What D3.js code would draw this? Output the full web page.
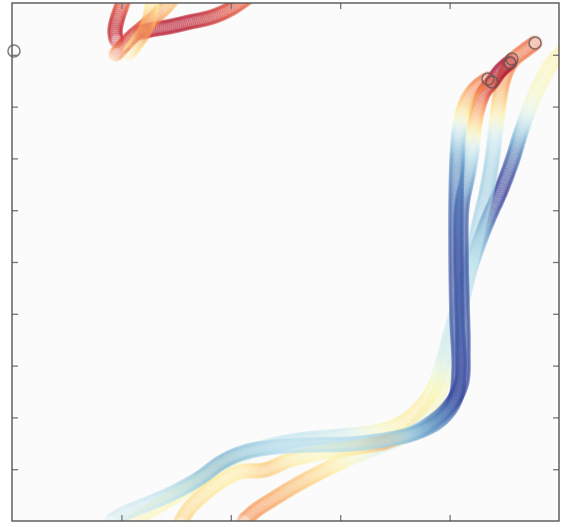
<!DOCTYPE html>
<html>
<head>
<meta charset="utf-8">
<script src="https://cdn.jsdelivr.net/npm/d3@7"></script>
<style>
    body { margin: 0; background: #fff; }
    .axis path { display: none; }
    .axis line { stroke: #777; stroke-width: 1.3; }
</style>
</head>
<body>
<svg id="chart"></svg>
<script>
// trail waypoints, data units [x, y]
var trail_1 = [[4.351, 8.533], [4.260, 8.398], [4.177, 8.185], [4.122, 7.896], [4.086, 7.510], [4.068, 6.969],
    [4.059, 6.197], [4.059, 5.039], [4.068, 3.880], [4.086, 2.915], [4.049, 2.336], [3.912, 1.950], [3.684, 1.699],
    [3.410, 1.564], [3.090, 1.486], [2.724, 1.467], [2.404, 1.429], [2.130, 1.332], [1.920, 1.139], [1.718, 0.830],
    [1.490, 0.560], [1.261, 0.347], [1.033, 0.154], [0.896, -0.019]];
var trail_1_value = [.2, .22, .3, .42, .64, .84, .92, .95, .95, .96, .97, .88, .8, .72, .68, .66, .68, .74, .78, .75,
    .68, .64, .62, .62];

var trail_2 = [[4.552, 8.861], [4.461, 8.687], [4.388, 8.475], [4.314, 8.282], [4.260, 7.973], [4.223, 7.587],
    [4.205, 7.162], [4.168, 6.680], [4.113, 6.100], [4.104, 5.232], [4.113, 4.266], [4.122, 3.301], [4.104, 2.625],
    [3.985, 2.181], [3.803, 1.853], [3.592, 1.641], [3.410, 1.525], [3.181, 1.429], [2.815, 1.313], [2.541, 1.178],
    [2.313, 0.985], [2.084, 0.946], [1.901, 0.753], [1.737, 0.483], [1.609, 0.212], [1.536, -0.058]];
var trail_2_value = [0, 0, .03, .12, .25, .42, .64, .78, .92, .95, .96, .97, .98, .95, .84, .55, .3, .42, .5, .45,
    .35, .45, .45, .42, .4, .38];

var trail_3 = [[4.781, 9.228], [4.680, 9.073], [4.580, 8.900], [4.516, 8.668], [4.470, 8.320], [4.442, 7.934],
    [4.415, 7.452], [4.388, 6.969], [4.342, 6.390], [4.278, 5.811], [4.196, 5.039], [4.095, 4.266], [4.004, 3.591],
    [3.940, 3.069], [3.857, 2.568], [3.729, 2.181], [3.547, 1.873], [3.318, 1.718], [2.998, 1.641], [2.633, 1.564],
    [2.313, 1.429], [2.038, 1.216], [1.810, 0.907], [1.581, 0.598], [1.353, 0.309], [1.170, 0.077], [1.097, -0.058]];
var trail_3_value = [.2, .2, .22, .25, .3, .42, .62, .7, .72, .7, .65, .62, .63, .6, .5, .45, .46, .52, .62, .65,
    .63, .56, .52, .5, .5, .5, .5];

var trail_4 = [[5.174, 9.324], [5.055, 9.093], [4.945, 8.861], [4.854, 8.552], [4.771, 8.185], [4.707, 7.838],
    [4.644, 7.452], [4.589, 7.066], [4.525, 6.680], [4.452, 6.293], [4.369, 5.907], [4.278, 5.425], [4.186, 4.846],
    [4.095, 4.073], [4.022, 3.494], [3.967, 3.012], [3.912, 2.529], [3.803, 2.143], [3.638, 1.718], [3.364, 1.448],
    [3.090, 1.216], [2.861, 0.985], [2.633, 0.734], [2.404, 0.444], [2.221, 0.193], [2.112, -0.019]];
var trail_4_value = [.42, .45, .48, .5, .52, .58, .75, .9, .97, 1, .95, .8, .68, .63, .6, .58, .5, .52, .62, .6,
    .52, .42, .35, .3, .27, .25];

var trail_5 = [[2.157, 10.116], [2.011, 9.903], [1.828, 9.730], [1.627, 9.633], [1.426, 9.537], [1.261, 9.479],
    [1.170, 9.421]];
var trail_5_value = [.18, .14, .08, .04, .03, .04, .06];

var trail_6 = [[1.033, 10.135], [0.996, 9.903], [0.960, 9.672], [0.941, 9.440], [0.960, 9.247]];
var trail_6_value = [.22, .14, .07, .05, .08];

var trail_7 = [[0.951, 9.015], [1.015, 9.170], [1.106, 9.363], [1.225, 9.575], [1.335, 9.788], [1.444, 10.019],
    [1.481, 10.154]];
var trail_7_value = [.3, .15, .08, .15, .28, .35, .35];

var trail_8 = [[1.069, 9.035], [1.143, 9.247], [1.216, 9.479], [1.261, 9.710], [1.280, 9.942], [1.289, 10.154]];
var trail_8_value = [.45, .38, .25, .35, .45, .45];

// current positions
var heads = [[0.018, 9.073], [4.781, 9.228], [4.570, 8.919], [4.552, 8.842], [4.351, 8.533], [4.388, 8.475]];

var x_ticks = [1, 2, 3, 4];
var y_ticks = [1, 2, 3, 4, 5, 6, 7, 8, 9];

var trails = [
    {pts: trail_4, val: trail_4_value},
    {pts: trail_3, val: trail_3_value},
    {pts: trail_2, val: trail_2_value},
    {pts: trail_1, val: trail_1_value},
    {pts: trail_5, val: trail_5_value},
    {pts: trail_6, val: trail_6_value},
    {pts: trail_7, val: trail_7_value},
    {pts: trail_8, val: trail_8_value}
];

var margin = {top: 3, right: 15, bottom: 6, left: 12},
    width = 574 - margin.left - margin.right,
    height = 527 - margin.top - margin.bottom;

var svg = d3.select("#chart")
    .attr("width", 574)
    .attr("height", 527);

var g = svg.append("g")
    .attr("transform", "translate(" + margin.left + "," + margin.top + ")");

var xScale = d3.scaleLinear().domain([0, 5]).range([0, width]);
var yScale = d3.scaleLinear().domain([0, 10]).range([height, 0]);

svg.append("defs")
    .append("clipPath")
    .attr("id", "clip")
    .append("rect")
    .attr("width", width)
    .attr("height", height);

g.append("rect")
    .attr("width", width)
    .attr("height", height)
    .attr("fill", "#fbfbfb");

var line = d3.line()
    .x(function (d) { return xScale(d[0]); })
    .y(function (d) { return yScale(d[1]); })
    .curve(d3.curveCatmullRom.alpha(0.5));

var trailGroup = g.append("g").attr("clip-path", "url(#clip)");

trails.forEach(function (t) {
    var path = trailGroup.append("path")
        .attr("d", line(t.pts))
        .attr("fill", "none")
        .attr("stroke", "none");
    var node = path.node(),
        total = node.getTotalLength();

    // chord lengths to place the colour values along the curve
    var cum = [0];
    for (var i = 1; i < t.pts.length; i++) {
        var dx = xScale(t.pts[i][0]) - xScale(t.pts[i - 1][0]),
            dy = yScale(t.pts[i][1]) - yScale(t.pts[i - 1][1]);
        cum.push(cum[i - 1] + Math.sqrt(dx * dx + dy * dy));
    }
    var colour = d3.scaleLinear()
        .domain(cum.map(function (c) { return c / cum[cum.length - 1] * total; }))
        .range(t.val)
        .clamp(true);

    var rings = [];
    for (var s = 0; s <= total; s += 2) {
        var p = node.getPointAtLength(s);
        rings.push({x: p.x, y: p.y, v: colour(s)});
    }

    trailGroup.selectAll(null)
        .data(rings)
        .enter()
        .append("circle")
        .attr("cx", function (d) { return d.x; })
        .attr("cy", function (d) { return d.y; })
        .attr("r", 6.5)
        .attr("fill", "none")
        .attr("stroke", function (d) { return d3.interpolateRdYlBu(d.v); })
        .attr("stroke-width", 2.8)
        .attr("stroke-opacity", 0.26);
});

g.selectAll(".head")
    .data(heads)
    .enter()
    .append("circle")
    .attr("class", "head")
    .attr("cx", function (d) { return xScale(d[0]); })
    .attr("cy", function (d) { return yScale(d[1]); })
    .attr("r", 6)
    .attr("fill", "none")
    .attr("stroke", "#555")
    .attr("stroke-opacity", 0.75)
    .attr("stroke-width", 1.6);

// inward ticks on all four sides
g.append("g").attr("class", "axis")
    .attr("transform", "translate(0," + height + ")")
    .call(d3.axisTop(xScale).tickValues(x_ticks).tickSize(6).tickSizeOuter(0).tickFormat(""));
g.append("g").attr("class", "axis")
    .call(d3.axisBottom(xScale).tickValues(x_ticks).tickSize(6).tickSizeOuter(0).tickFormat(""));
g.append("g").attr("class", "axis")
    .call(d3.axisRight(yScale).tickValues(y_ticks).tickSize(6).tickSizeOuter(0).tickFormat(""));
g.append("g").attr("class", "axis")
    .attr("transform", "translate(" + width + ",0)")
    .call(d3.axisLeft(yScale).tickValues(y_ticks).tickSize(6).tickSizeOuter(0).tickFormat(""));

g.append("rect")
    .attr("width", width)
    .attr("height", height)
    .attr("fill", "none")
    .attr("stroke", "#555")
    .attr("stroke-width", 1.4);
</script>
</body>
</html>
